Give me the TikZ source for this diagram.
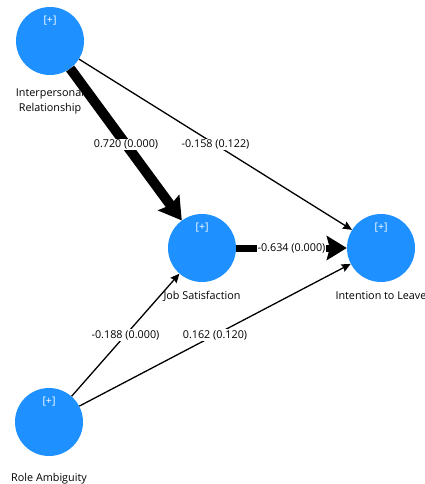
\documentclass[tikz,border=0pt]{standalone}
\usepackage{fontspec}
\setmainfont{Open Sans}
\usetikzlibrary{arrows.meta,positioning}
\definecolor{nodeblue}{RGB}{30,144,255}

\begin{document}
\begin{tikzpicture}[x=1pt,y=-1pt]
\tikzset{latent/.style={circle, fill=nodeblue, minimum size=68pt, inner sep=0pt},
  plus/.style={text=white, font=\fontsize{10.5}{11}\selectfont, inner sep=1pt},
  caption/.style={font=\fontsize{10.8}{15}\selectfont, align=center, inner sep=1pt},
  weight/.style={fill=white, font=\fontsize{10.8}{12}\selectfont, inner sep=1pt},
  thinpath/.style={line width=1.3pt, -{Stealth[length=9pt, width=8pt, inset=1pt]}},
  fatpath/.style={line width=10pt, -{Stealth[length=22pt, width=26pt, inset=3pt]}},
  widepath/.style={line width=7pt, -{Stealth[length=20pt, width=24pt, inset=3pt]}}}
\useasboundingbox (0,0) rectangle (425,484);
\node[latent] (IR) at (50,41) {};
\node[latent] (JS) at (202,248) {};
\node[latent] (IL) at (381,248) {};
\node[latent] (RA) at (49,422) {};
\node[plus] (IRp) at (50,21) {[+]};
\node[plus] (JSp) at (202,228) {[+]};
\node[plus] (ILp) at (381,228) {[+]};
\node[plus] (RAp) at (49,402) {[+]};
\node[caption, below=12pt of IR] (IRc) {Interpersonal\\Relationship};
\node[caption, below=8pt of JS] (JSc) {Job Satisfaction};
\node[caption, below=8pt of IL] (ILc) {Intention to Leave};
\node[caption, below=16pt of RA] (RAc) {Role Ambiguity};
% paths
\draw[fatpath] (IR) -- (JS) node[midway, weight] (w1) {0.720 (0.000)};
\draw[thinpath] (IR) -- (IL) node[midway, weight] (w2) {-0.158 (0.122)};
\draw[widepath] (JS) -- (IL) node[midway, weight] (w3) {-0.634 (0.000)};
\draw[thinpath] (RA) -- (JS) node[midway, weight] (w4) {-0.188 (0.000)};
\draw[thinpath] (RA) -- (IL) node[midway, weight] (w5) {0.162 (0.120)};
\end{tikzpicture}
\end{document}
